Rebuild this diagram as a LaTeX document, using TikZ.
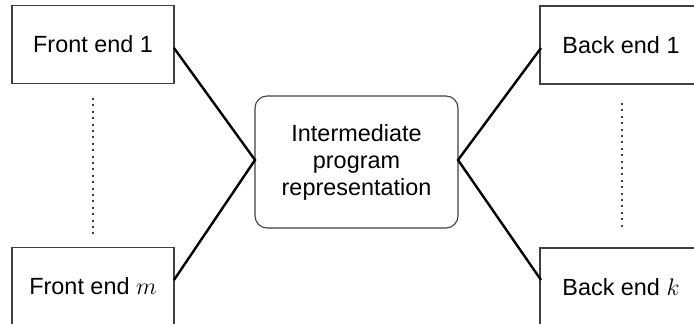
\documentclass[tikz,border=0pt]{standalone}
\usepackage{fontspec}
\setmainfont{Liberation Sans}
\begin{document}
\begin{tikzpicture}[x=0.5pt,y=-0.5pt,
  endbox/.style={draw=black!75, line width=0.55pt, minimum width=81pt, minimum height=39pt,
    inner sep=0pt, font=\fontsize{11.7}{13.5}\selectfont},
  irbox/.style={draw=black!75, line width=0.55pt, rounded corners=6pt, minimum width=101.5pt,
    minimum height=66pt, align=center, inner sep=0pt, font=\fontsize{11.7}{13.5}\selectfont},
  link/.style={line width=1.2pt, black},
  dots/.style={line width=1pt, black!75, dash pattern=on 1pt off 2.2pt}]
\clip (0,0) rectangle (694,324);
\node[endbox] (fe1) at (93,44.5) {Front end 1};
\node[endbox] (fem) at (93,286.5) {Front end $m$};
\node[endbox] (be1) at (621,45) {Back end 1};
\node[endbox] (bek) at (621,287) {Back end $k$};
\node[irbox] (ir) at (356.5,162) {Intermediate\\program\\representation};
\coordinate (irl) at (255,160);
\coordinate (irr) at (458,160);
\coordinate (fe1p) at (174,48);
\coordinate (femp) at (174,280);
\coordinate (be1p) at (541,48);
\coordinate (bekp) at (541,280);
\draw[link] (fe1p) -- (irl) -- (femp);
\draw[link] (be1p) -- (irr) -- (bekp);
\coordinate (ld1) at (93,98);
\coordinate (ld2) at (93,236);
\coordinate (rd1) at (622,103);
\coordinate (rd2) at (622,227);
\draw[dots] (ld1) -- (ld2);
\draw[dots] (rd1) -- (rd2);
\end{tikzpicture}
\end{document}
